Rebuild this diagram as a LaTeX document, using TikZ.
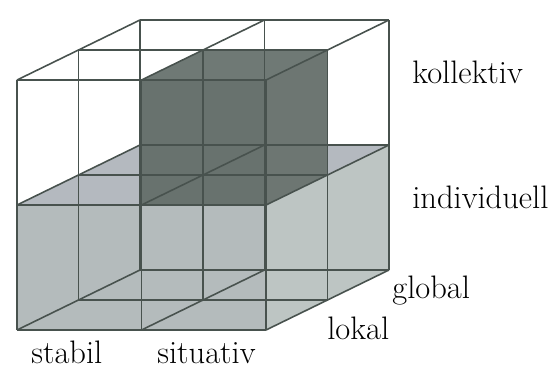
\documentclass[tikz,border=0pt]{standalone}
\usepackage{amsmath,amssymb}
\usepackage{tikz}

\definecolor{lowfront}{RGB}{180,187,188}
\definecolor{lowtop}{RGB}{180,185,191}
\definecolor{lowside}{RGB}{189,197,195}
\definecolor{darkcell}{RGB}{104,114,110}
\definecolor{gridline}{RGB}{72,82,78}

\begin{document}
\begin{tikzpicture}[scale=1.0]
\useasboundingbox (0,0) rectangle (11.12,7.38);
\begin{scope}[shift={(0.34,0.78)},x={(2.49cm,0cm)},y={(0cm,2.5cm)},z={(1.23cm,0.6cm)}]
% lower layer (individuell)
\fill[lowfront] (0,0,0) -- (2,0,0) -- (2,1,0) -- (0,1,0) -- cycle;
\fill[lowtop] (0,1,0) -- (2,1,0) -- (2,1,2) -- (0,1,2) -- cycle;
\fill[lowside] (2,0,0) -- (2,0,2) -- (2,1,2) -- (2,1,0) -- cycle;
% the one dark cell
\fill[darkcell] (1,1,0) -- (2,1,0) -- (2,2,0) -- (1,2,0) -- cycle;
\fill[darkcell!95!white] (1,2,0) -- (2,2,0) -- (2,2,1) -- (1,2,1) -- cycle;
\fill[darkcell!97!white] (2,1,0) -- (2,1,1) -- (2,2,1) -- (2,2,0) -- cycle;
% wire frame
\draw[gridline,line width=0.9pt]
  (0,0,0) -- (2,0,0) (0,1,0) -- (2,1,0) (0,2,0) -- (2,2,0)
  (0,0,1) -- (2,0,1) (0,1,1) -- (2,1,1) (0,2,1) -- (2,2,1)
  (0,0,2) -- (2,0,2) (0,1,2) -- (2,1,2) (0,2,2) -- (2,2,2);
\draw[gridline,line width=0.9pt]
  (0,0,0) -- (0,2,0) (1,0,0) -- (1,2,0) (2,0,0) -- (2,2,0)
  (0,0,1) -- (0,2,1) (1,0,1) -- (1,2,1) (2,0,1) -- (2,2,1)
  (0,0,2) -- (0,2,2) (1,0,2) -- (1,2,2) (2,0,2) -- (2,2,2);
\draw[gridline,line width=0.9pt]
  (0,0,0) -- (0,0,2) (1,0,0) -- (1,0,2) (2,0,0) -- (2,0,2)
  (0,1,0) -- (0,1,2) (1,1,0) -- (1,1,2) (2,1,0) -- (2,1,2)
  (0,2,0) -- (0,2,2) (1,2,0) -- (1,2,2) (2,2,0) -- (2,2,2);
\end{scope}
\node[font=\fontsize{18.5}{21}\selectfont,anchor=base west,inner sep=0pt] (kollektiv) at (8.24,5.72) {kollektiv};
\node[font=\fontsize{18.5}{21}\selectfont,anchor=base west,inner sep=0pt] (individuell) at (8.24,3.22) {individuell};
\node[font=\fontsize{18.5}{21}\selectfont,anchor=base west,inner sep=0pt] (global) at (7.84,1.42) {global};
\node[font=\fontsize{18.5}{21}\selectfont,anchor=base west,inner sep=0pt] (lokal) at (6.54,0.60) {lokal};
\node[font=\fontsize{18.5}{21}\selectfont,anchor=base west,inner sep=0pt] (stabil) at (0.62,0.12) {stabil};
\node[font=\fontsize{18.5}{21}\selectfont,anchor=base west,inner sep=0pt] (situativ) at (3.14,0.12) {situativ};
\end{tikzpicture}
\end{document}
